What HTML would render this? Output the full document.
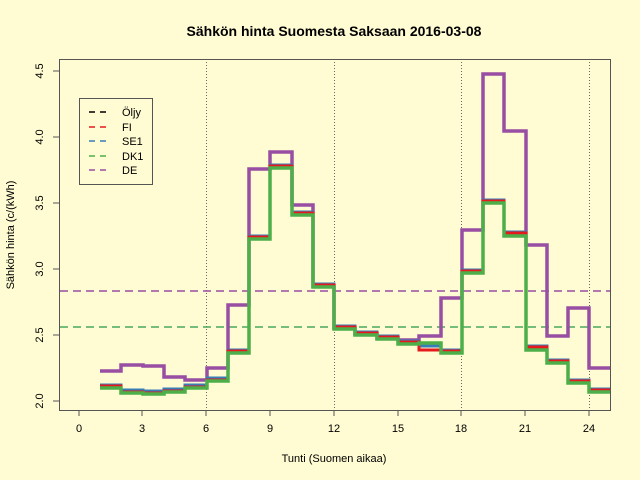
<!DOCTYPE html>
<html><head><style>body{margin:0;background:#fffbd2}svg{display:block}text{font-family:"Liberation Sans",sans-serif;fill:#000}</style></head><body>
<svg width="640" height="480" viewBox="0 0 640 480">
<rect width="640" height="480" fill="#fffbd2"/>
<text x="334" y="36" font-size="14" font-weight="bold" text-anchor="middle">Sähkön hinta Suomesta Saksaan 2016-03-08</text>
<g stroke="#666" stroke-dasharray="1,2" stroke-width="1">
<line x1="206.5" y1="59" x2="206.5" y2="410"/><line x1="334.5" y1="59" x2="334.5" y2="410"/><line x1="461.5" y1="59" x2="461.5" y2="410"/><line x1="589.5" y1="59" x2="589.5" y2="410"/>
</g>
<line x1="60" y1="291" x2="611" y2="291" stroke="#984ea3" stroke-width="1.5" stroke-dasharray="8,5"/>
<line x1="60" y1="327" x2="611" y2="327" stroke="#4daf4a" stroke-width="1.5" stroke-dasharray="8,5"/>
<line x1="60" y1="327" x2="611" y2="327" stroke="#377eb8" stroke-width="0.5" stroke-dasharray="8,5" opacity=".5"/>
<polyline fill="none" stroke="#984ea3" stroke-width="3.5" points="100,371 121,371 121,365 143,365 143,366 164,366 164,377 185,377 185,380 207,380 207,368 228,368 228,305 249,305 249,169 270,169 270,152 292,152 292,205 313,205 313,286 334,286 334,328 355,328 355,334 377,334 377,338 398,338 398,340 419,340 419,336 441,336 441,298 462,298 462,230 483,230 483,74 504,74 504,131 526,131 526,245 547,245 547,336 568,336 568,308 589,308 589,368 611,368"/>
<polyline fill="none" stroke="#377eb8" stroke-width="3" points="100,385 121,385 121,390 143,390 143,391 164,391 164,389 185,389 185,385 207,385 207,378 228,378 228,350 249,350 249,236 270,236 270,165 292,165 292,212 313,212 313,284 334,284 334,326 355,326 355,332 377,332 377,336 398,336 398,341 419,341 419,346 441,346 441,350 462,350 462,270 483,270 483,200 504,200 504,232 526,232 526,346 547,346 547,360 568,360 568,380 589,380 589,389 611,389"/>
<polyline fill="none" stroke="#e41a1c" stroke-width="3" points="100,386 121,386 121,392 143,392 143,393 164,393 164,391 185,391 185,387 207,387 207,380 228,380 228,351 249,351 249,237 270,237 270,166 292,166 292,213 313,213 313,285 334,285 334,327 355,327 355,333 377,333 377,337 398,337 398,342 419,342 419,350 441,350 441,351 462,351 462,271 483,271 483,201 504,201 504,233 526,233 526,347 547,347 547,361 568,361 568,381 589,381 589,390 611,390"/>
<polyline fill="none" stroke="#4daf4a" stroke-width="3.5" points="100,388 121,388 121,393 143,393 143,394 164,394 164,392 185,392 185,388 207,388 207,381 228,381 228,353 249,353 249,239 270,239 270,168 292,168 292,215 313,215 313,287 334,287 334,329 355,329 355,335 377,335 377,339 398,339 398,344 419,344 419,343 441,343 441,353 462,353 462,273 483,273 483,203 504,203 504,236 526,236 526,350 547,350 547,363 568,363 568,383 589,383 589,392 611,392"/>
<rect x="59.5" y="59.5" width="551" height="351" fill="none" stroke="#555"/>
<g stroke="#555"><line x1="79" y1="410" x2="79" y2="416"/><line x1="142" y1="410" x2="142" y2="416"/><line x1="206" y1="410" x2="206" y2="416"/><line x1="270" y1="410" x2="270" y2="416"/><line x1="334" y1="410" x2="334" y2="416"/><line x1="398" y1="410" x2="398" y2="416"/><line x1="461" y1="410" x2="461" y2="416"/><line x1="525" y1="410" x2="525" y2="416"/><line x1="589" y1="410" x2="589" y2="416"/>
<line x1="53" y1="401" x2="59" y2="401"/><line x1="53" y1="335" x2="59" y2="335"/><line x1="53" y1="269" x2="59" y2="269"/><line x1="53" y1="203" x2="59" y2="203"/><line x1="53" y1="137" x2="59" y2="137"/><line x1="53" y1="71" x2="59" y2="71"/></g>
<g font-size="11" text-anchor="middle"><text x="79" y="432">0</text><text x="142" y="432">3</text><text x="206" y="432">6</text><text x="270" y="432">9</text><text x="334" y="432">12</text><text x="398" y="432">15</text><text x="461" y="432">18</text><text x="525" y="432">21</text><text x="589" y="432">24</text></g>
<g font-size="11" text-anchor="middle"><text transform="translate(43,401) rotate(-90)">2.0</text><text transform="translate(43,335) rotate(-90)">2.5</text><text transform="translate(43,269) rotate(-90)">3.0</text><text transform="translate(43,203) rotate(-90)">3.5</text><text transform="translate(43,137) rotate(-90)">4.0</text><text transform="translate(43,71) rotate(-90)">4.5</text></g>
<text x="334" y="462" font-size="11" text-anchor="middle">Tunti (Suomen aikaa)</text>
<text transform="translate(14,235) rotate(-90)" font-size="11" text-anchor="middle">Sähkön hinta (c/(kWh)</text>
<rect x="79.5" y="98.5" width="73" height="86" fill="none" stroke="#555"/>
<g stroke-width="1.5" stroke-dasharray="6,5"><line x1="89" y1="112" x2="110" y2="112" stroke="#000"/><line x1="89" y1="127" x2="110" y2="127" stroke="#e41a1c"/><line x1="89" y1="141" x2="110" y2="141" stroke="#377eb8"/><line x1="89" y1="156" x2="110" y2="156" stroke="#4daf4a"/><line x1="89" y1="170" x2="110" y2="170" stroke="#984ea3"/></g>
<g font-size="11"><text x="122" y="116">Öljy</text><text x="122" y="131">FI</text><text x="122" y="145">SE1</text><text x="122" y="160">DK1</text><text x="122" y="174">DE</text></g>
</svg>
</body></html>
